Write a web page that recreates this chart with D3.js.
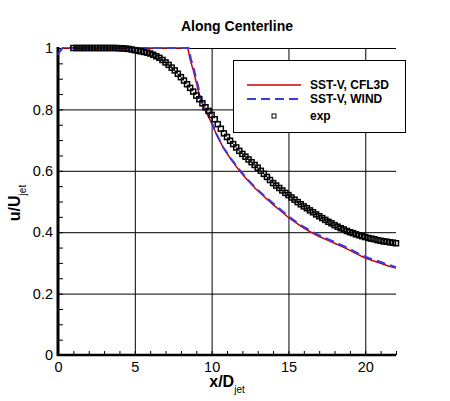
<!DOCTYPE html>
<html>
<head>
<meta charset="utf-8">
<script src="https://cdn.jsdelivr.net/npm/d3@7"></script>
<style>
  body { margin: 0; background: #fff; }
  svg { font-family: "Liberation Sans", Arial, Helvetica, sans-serif; }
  .grid line { stroke: #000; stroke-width: 1; }
  .grid path { display: none; }
  .minor path { display: none; }
  .minor line { stroke: #000; stroke-width: 1; }
</style>
</head>
<body>
<div id="chart"></div>
<script>
// -----------------------------------------------------------------------------
// Data
// -----------------------------------------------------------------------------

var xTicks = [0, 5, 10, 15, 20];
var xTickLabels = ["0", "5", "10", "15", "20"];
var yTicks = [0, 0.2, 0.4, 0.6, 0.8, 1];
var yTickLabels = ["0", "0.2", "0.4", "0.6", "0.8", "1"];

var seriesNames = ["SST-V, CFL3D", "SST-V, WIND", "exp"];

var cfl3dX = [0, 0.3, 8.45, 8.6, 8.8, 9.0, 9.25, 9.55, 9.9, 10.3, 10.76, 11.3, 11.85, 12.4, 12.93,
  13.5, 14.0, 14.5, 15.0, 15.5, 16.0, 16.5, 17.0, 17.5, 18.0, 18.5, 19.0, 19.5, 20.0, 20.5, 21.0, 21.5, 22.0];
var cfl3dY = [0.98, 1.0, 1.0, 0.962, 0.928, 0.888, 0.836, 0.8, 0.766, 0.72, 0.675, 0.634, 0.598, 0.566, 0.538,
  0.512, 0.49, 0.469, 0.448, 0.43, 0.413, 0.399, 0.386, 0.375, 0.364, 0.353, 0.341, 0.328, 0.316, 0.307, 0.299, 0.29, 0.283];

var windX = [0, 0.3, 8.5, 8.65, 8.85, 9.05, 9.3, 9.6, 9.95, 10.3, 10.76, 11.3, 11.85, 12.4, 12.93,
  13.5, 14.0, 14.5, 15.0, 15.5, 16.0, 16.5, 17.0, 17.5, 18.0, 18.5, 19.0, 19.5, 20.0, 20.5, 21.0, 21.5, 22.0];
var windY = [0.98, 1.0, 1.0, 0.965, 0.93, 0.89, 0.836, 0.8, 0.765, 0.722, 0.676, 0.637, 0.601, 0.569, 0.541,
  0.516, 0.494, 0.473, 0.452, 0.434, 0.417, 0.403, 0.39, 0.379, 0.368, 0.357, 0.345, 0.332, 0.32, 0.311, 0.303, 0.294, 0.286];

var expX = [1.0, 1.2, 1.4, 1.6, 1.8, 2.0, 2.2, 2.4, 2.6, 2.8, 3.0, 3.2, 3.4, 3.6, 3.8,
  4.0, 4.2, 4.4, 4.6, 4.8, 5.0, 5.2, 5.4, 5.6, 5.8, 6.0, 6.2, 6.4, 6.6, 6.8,
  7.0, 7.2, 7.4, 7.6, 7.8, 8.0, 8.2, 8.4, 8.6, 8.8, 9.0, 9.2, 9.4, 9.6, 9.8,
  10.0, 10.2, 10.4, 10.6, 10.8, 11.0, 11.2, 11.4, 11.6, 11.8, 12.0, 12.2, 12.4, 12.6, 12.8,
  13.0, 13.2, 13.4, 13.6, 13.8, 14.0, 14.2, 14.4, 14.6, 14.8, 15.0, 15.2, 15.4, 15.6, 15.8,
  16.0, 16.2, 16.4, 16.6, 16.8, 17.0, 17.2, 17.4, 17.6, 17.8, 18.0, 18.2, 18.4, 18.6, 18.8,
  19.0, 19.2, 19.4, 19.6, 19.8, 20.0, 20.2, 20.4, 20.6, 20.8, 21.0, 21.2, 21.4, 21.6, 21.8, 22.0];
var expY = [1.0, 1.0, 1.0, 1.0, 1.0, 1.0, 1.0, 1.0, 1.0, 1.0, 1.0, 1.0, 1.0, 1.0, 1.0,
  0.999, 0.999, 0.998, 0.997, 0.995, 0.993, 0.991, 0.989, 0.987, 0.985, 0.982, 0.978, 0.973, 0.968, 0.961,
  0.953, 0.945, 0.936, 0.927, 0.916, 0.905, 0.894, 0.882, 0.870, 0.858, 0.845, 0.833, 0.820, 0.807, 0.795,
  0.782, 0.768, 0.752, 0.737, 0.722, 0.710, 0.698, 0.687, 0.676, 0.665, 0.655, 0.646, 0.637, 0.628, 0.619,
  0.610, 0.600, 0.590, 0.580, 0.570, 0.560, 0.552, 0.544, 0.536, 0.528, 0.521, 0.513, 0.506, 0.498, 0.491,
  0.484, 0.478, 0.471, 0.465, 0.458, 0.452, 0.446, 0.440, 0.434, 0.429, 0.423, 0.418, 0.413, 0.409, 0.404,
  0.400, 0.397, 0.393, 0.390, 0.387, 0.384, 0.381, 0.379, 0.377, 0.374, 0.372, 0.370, 0.369, 0.367, 0.366, 0.364];

// -----------------------------------------------------------------------------
// D3 Configurations
// -----------------------------------------------------------------------------

var W = 450, H = 401;
var RED = "#cc0000", BLUE = "#3a3ae8";

var xScale = d3.scaleLinear().domain([0, 22]).range([58, 396]);
var yScale = d3.scaleLinear().domain([0, 1]).range([355, 48]);

var svg = d3.select("#chart").append("svg")
    .attr("width", W)
    .attr("height", H);

// grid
svg.append("g")
    .attr("class", "grid")
    .attr("transform", "translate(0," + yScale(0) + ")")
    .call(d3.axisBottom(xScale)
        .tickValues(xTicks.slice(1))
        .tickSize(-(yScale(0) - yScale(1)))
        .tickFormat(""));

svg.append("g")
    .attr("class", "grid")
    .attr("transform", "translate(" + xScale(0) + ",0)")
    .call(d3.axisLeft(yScale)
        .tickValues(yTicks.slice(1))
        .tickSize(-(xScale(22) - xScale(0)))
        .tickFormat(""));

// minor ticks (inward)
svg.append("g")
    .attr("class", "minor")
    .attr("transform", "translate(0," + yScale(0) + ")")
    .call(d3.axisBottom(xScale)
        .tickValues(xScale.ticks(22))
        .tickSize(-4)
        .tickFormat(""));

svg.append("g")
    .attr("class", "minor")
    .attr("transform", "translate(" + xScale(0) + ",0)")
    .call(d3.axisLeft(yScale)
        .tickValues(yScale.ticks(20))
        .tickSize(-5)
        .tickFormat(""));

// tick labels
svg.append("g")
    .attr("transform", "translate(0," + yScale(0) + ")")
    .call(d3.axisBottom(xScale)
        .tickValues(xTicks)
        .tickSize(0)
        .tickPadding(7)
        .tickFormat(function(d, i) { return xTickLabels[i]; }))
    .call(function(g) {
      g.select(".domain").remove();
      g.selectAll("text").attr("font-size", 14.5).attr("fill", "#000")
        .attr("font-family", "'Liberation Sans', Arial, sans-serif");
    });

svg.append("g")
    .attr("transform", "translate(" + xScale(0) + ",0)")
    .call(d3.axisLeft(yScale)
        .tickValues(yTicks)
        .tickSize(0)
        .tickPadding(5)
        .tickFormat(function(d, i) { return yTickLabels[i]; }))
    .call(function(g) {
      g.select(".domain").remove();
      g.selectAll("text").attr("font-size", 14.5).attr("fill", "#000")
        .attr("font-family", "'Liberation Sans', Arial, sans-serif");
    });

// axis lines
svg.append("line")
    .attr("x1", xScale(0)).attr("x2", xScale(0))
    .attr("y1", yScale(1) - 1).attr("y2", yScale(0) + 1)
    .attr("stroke", "#000").attr("stroke-width", 3);

svg.append("line")
    .attr("x1", xScale(0) - 1).attr("x2", xScale(22))
    .attr("y1", yScale(0)).attr("y2", yScale(0))
    .attr("stroke", "#000").attr("stroke-width", 2.5);

// series
var line = d3.line()
    .x(function(d) { return xScale(d[0]); })
    .y(function(d) { return yScale(d[1]); });

svg.append("path")
    .datum(d3.zip(cfl3dX, cfl3dY))
    .attr("fill", "none")
    .attr("stroke", RED)
    .attr("stroke-width", 1.5)
    .attr("d", line);

svg.append("path")
    .datum(d3.zip(windX, windY))
    .attr("fill", "none")
    .attr("stroke", BLUE)
    .attr("stroke-width", 2)
    .attr("stroke-dasharray", "9,5")
    .attr("d", line);

var SQ = 5;
svg.append("g")
  .selectAll("rect")
    .data(d3.zip(expX, expY))
  .enter().append("rect")
    .attr("x", function(d) { return xScale(d[0]) - SQ / 2; })
    .attr("y", function(d) { return yScale(d[1]) - SQ / 2; })
    .attr("width", SQ)
    .attr("height", SQ)
    .attr("fill", "none")
    .attr("stroke", "#000")
    .attr("stroke-width", 1.5);

// legend
var legend = svg.append("g");
legend.append("rect")
    .attr("x", 233.5).attr("y", 60.5)
    .attr("width", 172).attr("height", 72)
    .attr("fill", "#fff")
    .attr("stroke", "#000")
    .attr("stroke-width", 1);

var legendY = [85, 99, 116];
legend.append("line")
    .attr("x1", 247).attr("x2", 301).attr("y1", legendY[0]).attr("y2", legendY[0])
    .attr("stroke", RED).attr("stroke-width", 1.5);
legend.append("line")
    .attr("x1", 247).attr("x2", 301).attr("y1", legendY[1]).attr("y2", legendY[1])
    .attr("stroke", BLUE).attr("stroke-width", 2).attr("stroke-dasharray", "9,5");
legend.append("rect")
    .attr("x", 274 - 2).attr("y", legendY[2] - 2)
    .attr("width", 4).attr("height", 4)
    .attr("fill", "none").attr("stroke", "#000").attr("stroke-width", 1);

legend.selectAll("text.lab")
    .data(seriesNames)
  .enter().append("text")
    .attr("class", "lab")
    .attr("x", 310)
    .attr("y", function(d, i) { return legendY[i] + 4; })
    .attr("font-size", 12)
    .attr("font-weight", "bold")
    .text(function(d) { return d; });

// title and axis labels
svg.append("text")
    .attr("x", 237).attr("y", 31)
    .attr("text-anchor", "middle")
    .attr("font-size", 14)
    .attr("font-weight", "bold")
    .text("Along Centerline");

var xl = svg.append("text")
    .attr("x", 227).attr("y", 387)
    .attr("text-anchor", "middle");
xl.append("tspan").attr("font-size", 16).attr("font-weight", "bold").text("x/D");
xl.append("tspan").attr("font-size", 10).attr("dy", 6).text("jet");

var yl = svg.append("text")
    .attr("transform", "translate(20,203) rotate(-90)")
    .attr("text-anchor", "middle");
yl.append("tspan").attr("font-size", 16).attr("font-weight", "bold").text("u/U");
yl.append("tspan").attr("font-size", 10).attr("dy", 6).text("jet");
</script>
</body>
</html>
